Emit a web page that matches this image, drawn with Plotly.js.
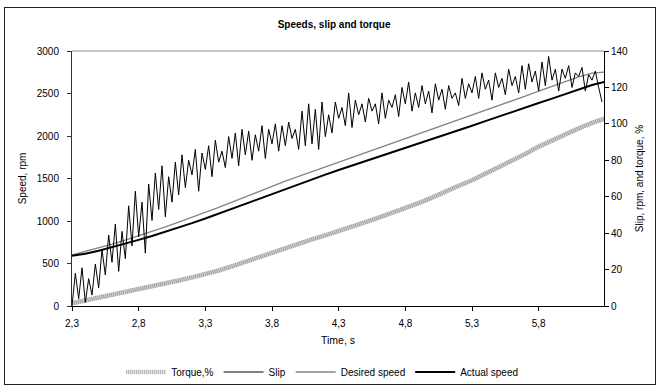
<!DOCTYPE html>
<html>
<head>
<meta charset="utf-8">
<script src="https://cdn.plot.ly/plotly-3.0.1.min.js"></script>
<style>
  html, body { margin: 0; padding: 0; background: #fff; }
  #wrap { position: relative; width: 659px; height: 385px; }
  #chart { position: absolute; left: 0; top: 0; width: 659px; height: 385px; }
  #frame { position: absolute; left: 4px; top: 7px; width: 650px; height: 376px; border: 1px solid #222; pointer-events: none; }
</style>
</head>
<body>
<div id="wrap">
  <div id="chart"></div>
  <div id="frame"></div>
</div>
<script>
// Time base (s)
const tStart = 2.3;
const tStepCoarse = 0.1;   // torque / speeds sampling
const tStepSlip = 0.025;   // slip sampling

// Torque, % (right axis), t = 2.3, 2.4, ... 6.3
const torque = [1.5, 3, 4.5, 6, 7.8, 9.5, 11, 12.5, 14, 15.7,
  17.5, 19.5, 21.8, 24.3, 27, 29.5, 32, 34.3, 36.6, 38.8,
  41, 43.5, 46, 48.5, 51, 53.5, 56.5, 59.5, 63, 66,
  69, 72.5, 76, 79.5, 83.5, 87.5, 91, 94.5, 97.5, 100.5, 103];

// Desired speed, rpm (left axis), t = 2.3 ... 6.3
const desiredSpeed = [600, 640, 682, 728, 776, 826, 878, 932, 987, 1043,
  1100, 1160, 1222, 1285, 1347, 1408, 1468, 1525, 1580, 1635,
  1690, 1746, 1802, 1857, 1913, 1968, 2024, 2080, 2135, 2190,
  2246, 2300, 2356, 2412, 2470, 2528, 2585, 2640, 2695, 2740, 2752];

// Actual speed, rpm (left axis), t = 2.3 ... 6.3
const actualSpeed = [590, 615, 650, 690, 733, 778, 824, 872, 922, 975,
  1030, 1088, 1147, 1205, 1263, 1320, 1377, 1433, 1490, 1545,
  1600, 1652, 1705, 1755, 1805, 1855, 1905, 1958, 2010, 2065,
  2120, 2175, 2230, 2282, 2335, 2388, 2440, 2492, 2545, 2600, 2640];

// Slip, rpm (right axis), t = 2.300, 2.325, ... 6.275
const slip = [
  0, 18, 4, 21, 2, 15, 6, 23,
  10, 31, 17, 39, 24, 45, 19, 41,
  26, 55, 33, 63, 38, 57, 29, 67,
  47, 73, 53, 77, 49, 71, 57, 79,
  61, 83, 65, 80, 72, 86, 63, 84,
  75, 88, 71, 91, 79, 85, 76, 93,
  81, 95, 77, 97, 83, 96, 80, 94,
  85, 99, 81, 97, 89, 100, 85, 99,
  88, 101, 92, 97, 86, 107, 88, 111,
  89, 108, 86, 112, 93, 105, 95, 112,
  103, 109, 99, 117, 98, 113, 105, 111,
  101, 114, 107, 111, 100, 117, 103, 113,
  109, 116, 104, 120, 111, 123, 107, 117,
  109, 121, 111, 118, 106, 122, 113, 119,
  108, 121, 114, 117, 110, 125, 114, 122,
  117, 126, 114, 128, 119, 124, 113, 128,
  120, 125, 116, 130, 121, 126, 117, 132,
  119, 133, 123, 129, 118, 134, 121, 137,
  124, 130, 118, 130, 125, 132, 120, 128,
  126, 131, 118, 127, 124, 129, 120, 112];

const xTickFirst = 2.3;
const xTickStep = 0.5;

const font = 'Liberation Sans, Arial, sans-serif';

const traces = [
  { // torque underlay (light band)
    y: torque, x0: tStart, dx: tStepCoarse, yaxis: 'y2', type: 'scatter', mode: 'lines',
    line: { color: '#d4d4d4', width: 4.5 }, showlegend: false, hoverinfo: 'skip'
  },
  { // torque striped overlay
    y: torque, x0: tStart, dx: tStepCoarse, yaxis: 'y2', type: 'scatter', mode: 'lines',
    name: 'Torque,%', line: { color: '#a0a0a0', width: 4.5, dash: '1px,1px' }
  },
  {
    y: slip, x0: tStart, dx: tStepSlip, yaxis: 'y2', type: 'scatter', mode: 'lines',
    name: 'Slip', line: { color: '#000', width: 1 }
  },
  {
    y: desiredSpeed, x0: tStart, dx: tStepCoarse, yaxis: 'y', type: 'scatter', mode: 'lines',
    name: 'Desired speed', line: { color: '#858585', width: 1.3 }
  },
  {
    y: actualSpeed, x0: tStart, dx: tStepCoarse, yaxis: 'y', type: 'scatter', mode: 'lines',
    name: 'Actual speed', line: { color: '#000', width: 2 }
  }
];

const layout = {
  width: 659, height: 385,
  margin: { l: 72, r: 55, t: 51, b: 79 },
  paper_bgcolor: '#fff', plot_bgcolor: '#fff',
  separators: ', ',
  font: { family: font, size: 10, color: '#000' },
  title: {
    text: '<b>Speeds, slip and torque</b>',
    font: { family: font, size: 10, color: '#000' },
    x: 0.507, xref: 'container', xanchor: 'center',
    y: 1 - 24 / 385, yref: 'container', yanchor: 'middle'
  },
  showlegend: true,
  legend: {
    orientation: 'h', xref: 'container', x: 0.489, xanchor: 'center',
    yref: 'container', y: 1 - 372 / 385, yanchor: 'middle',
    itemwidth: 40,
    font: { family: font, size: 10, color: '#000' }, bgcolor: 'rgba(0,0,0,0)',
    traceorder: 'normal'
  },
  xaxis: {
    range: [2.3, 6.29], tick0: xTickFirst, dtick: xTickStep, tickformat: '.1f',
    ticks: 'outside', ticklen: 4, tickcolor: '#000', ticklabelstandoff: 4,
    showline: true, linecolor: '#000', linewidth: 1,
    showgrid: false, zeroline: false, automargin: false,
    title: { text: 'Time, s', standoff: 8, font: { family: font, size: 10.5 } },
    tickfont: { family: font, size: 10 }
  },
  yaxis: {
    range: [0, 3000], dtick: 500, tick0: 0,
    ticks: 'outside', ticklen: 4, tickcolor: '#333', ticklabelstandoff: 6,
    showline: true, linecolor: '#333', linewidth: 1,
    showgrid: false, zeroline: false, automargin: false,
    title: { text: 'Speed, rpm', standoff: 8, font: { family: font, size: 10 } },
    tickfont: { family: font, size: 10 }
  },
  yaxis2: {
    overlaying: 'y', side: 'right', anchor: 'x',
    range: [0, 140], dtick: 20, tick0: 0,
    ticks: 'outside', ticklen: 4, tickcolor: '#000',
    showline: true, linecolor: '#000', linewidth: 1,
    showgrid: false, zeroline: false, automargin: false,
    title: { text: 'Slip, rpm, and torque, %', standoff: 8, font: { family: font, size: 10 } },
    tickfont: { family: font, size: 10 }
  },
  shapes: [
    { type: 'line', xref: 'paper', yref: 'paper', x0: 0, x1: 1, y0: 1, y1: 1,
      line: { color: '#8a8a8a', width: 1 } }
  ]
};

Plotly.newPlot('chart', traces, layout, { displayModeBar: false, staticPlot: true });
</script>
</body>
</html>
